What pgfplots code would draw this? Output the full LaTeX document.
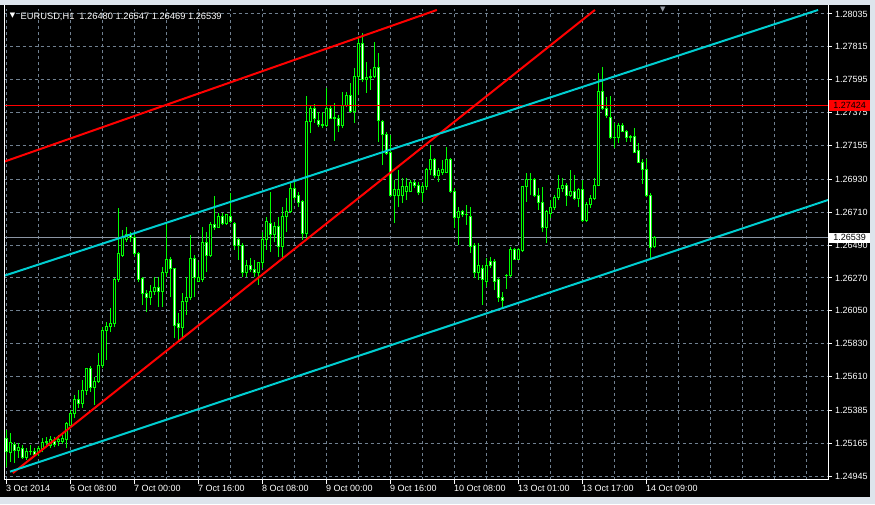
\documentclass[border=0pt]{standalone}
\usepackage{fontspec}
\setmainfont{Liberation Sans}
\newfontfamily\symfont{DejaVu Sans}
\usepackage{pgfplots}
\usepackage{pgfplotstable}
\pgfplotsset{compat=1.18}
\definecolor{winbg}{RGB}{221,228,236}
\definecolor{gridc}{RGB}{112,128,144}
\definecolor{candlec}{RGB}{0,255,0}
\definecolor{chan}{RGB}{0,206,209}
\definecolor{bidc}{RGB}{140,150,165}
\definecolor{shiftc}{RGB}{150,155,165}

\pgfplotstableread{
i o h l c
0 1.25199 1.25253 1.25005 1.25106
1 1.25099 1.25233 1.25039 1.25166
2 1.25159 1.25173 1.25032 1.25119
3 1.25119 1.25166 1.25066 1.25139
4 1.25132 1.25152 1.25059 1.25072
5 1.25072 1.25132 1.25052 1.25112
6 1.25112 1.25152 1.25086 1.25106
7 1.25112 1.25132 1.25079 1.25092
8 1.25099 1.25146 1.25079 1.25126
9 1.25126 1.25199 1.25106 1.25166
10 1.25166 1.25206 1.25139 1.25173
11 1.25152 1.25213 1.25132 1.25186
12 1.25179 1.25206 1.25139 1.25159
13 1.25173 1.25219 1.25146 1.25186
14 1.25173 1.25219 1.25159 1.25199
15 1.25186 1.25306 1.25132 1.25293
16 1.25286 1.25387 1.25266 1.25366
17 1.25366 1.25487 1.25333 1.25460
18 1.25460 1.25520 1.25400 1.25433
19 1.25433 1.25587 1.25400 1.25520
20 1.25520 1.25667 1.25487 1.25667
21 1.25667 1.25681 1.25507 1.25534
22 1.25534 1.25607 1.25420 1.25574
23 1.25574 1.25768 1.25567 1.25687
24 1.25687 1.25942 1.25667 1.25915
25 1.25915 1.25975 1.25721 1.25948
26 1.25942 1.26069 1.25908 1.25962
27 1.25962 1.26269 1.25942 1.26256
28 1.26256 1.26738 1.26243 1.26430
29 1.26423 1.26590 1.26410 1.26537
30 1.26524 1.26610 1.26510 1.26557
31 1.26557 1.26577 1.26510 1.26537
32 1.26537 1.26570 1.26416 1.26430
33 1.26430 1.26443 1.26243 1.26256
34 1.26263 1.26276 1.26089 1.26169
35 1.26169 1.26189 1.26042 1.26136
36 1.26136 1.26223 1.26089 1.26182
37 1.26182 1.26276 1.26156 1.26209
38 1.26209 1.26276 1.26075 1.26176
39 1.26182 1.26343 1.26075 1.26309
40 1.26303 1.26637 1.26276 1.26396
41 1.26396 1.26410 1.26142 1.26330
42 1.26330 1.26336 1.25868 1.25955
43 1.25962 1.26035 1.25855 1.25935
44 1.25935 1.26169 1.25875 1.26109
45 1.26109 1.26276 1.26022 1.26142
46 1.26142 1.26557 1.26122 1.26403
47 1.26403 1.26423 1.26142 1.26276
48 1.26249 1.26376 1.26243 1.26276
49 1.26256 1.26610 1.26243 1.26510
50 1.26510 1.26577 1.26309 1.26423
51 1.26423 1.26644 1.26410 1.26624
52 1.26624 1.26818 1.26590 1.26610
53 1.26610 1.26704 1.26604 1.26684
54 1.26684 1.26704 1.26624 1.26637
55 1.26637 1.26697 1.26624 1.26691
56 1.26684 1.26838 1.26637 1.26644
57 1.26637 1.26644 1.26457 1.26490
58 1.26524 1.26537 1.26390 1.26490
59 1.26490 1.26503 1.26276 1.26303
60 1.26303 1.26390 1.26276 1.26356
61 1.26356 1.26403 1.26309 1.26323
62 1.26323 1.26390 1.26276 1.26303
63 1.26303 1.26376 1.26223 1.26370
64 1.26370 1.26577 1.26336 1.26530
65 1.26530 1.26677 1.26457 1.26644
66 1.26637 1.26845 1.26443 1.26557
67 1.26557 1.26644 1.26510 1.26617
68 1.26617 1.26677 1.26410 1.26477
69 1.26477 1.26744 1.26403 1.26684
70 1.26684 1.26804 1.26577 1.26711
71 1.26711 1.26905 1.26704 1.26865
72 1.26865 1.26925 1.26791 1.26811
73 1.26824 1.26845 1.26744 1.26771
74 1.26778 1.26791 1.26524 1.26564
75 1.26564 1.27487 1.26524 1.27313
76 1.27313 1.27426 1.27239 1.27406
77 1.27406 1.27433 1.27306 1.27333
78 1.27326 1.27380 1.27279 1.27299
79 1.27299 1.27380 1.27273 1.27286
80 1.27286 1.27540 1.27279 1.27406
81 1.27406 1.27426 1.27333 1.27339
82 1.27346 1.27440 1.27186 1.27339
83 1.27339 1.27359 1.27246 1.27286
84 1.27286 1.27513 1.27273 1.27426
85 1.27426 1.27513 1.27413 1.27493
86 1.27493 1.27573 1.27373 1.27380
87 1.27380 1.27674 1.27306 1.27614
88 1.27614 1.27874 1.27493 1.27841
89 1.27841 1.27908 1.27580 1.27594
90 1.27594 1.27714 1.27507 1.27607
91 1.27607 1.27667 1.27527 1.27614
92 1.27614 1.27848 1.27607 1.27680
93 1.27680 1.27774 1.27179 1.27326
94 1.27313 1.27326 1.27025 1.27226
95 1.27232 1.27246 1.27092 1.27105
96 1.27112 1.27226 1.26811 1.26824
97 1.26818 1.26925 1.26637 1.26858
98 1.26824 1.26992 1.26744 1.26858
99 1.26824 1.26938 1.26771 1.26878
100 1.26851 1.26938 1.26791 1.26878
101 1.26851 1.26925 1.26845 1.26905
102 1.26905 1.26925 1.26871 1.26885
103 1.26891 1.26911 1.26824 1.26838
104 1.26838 1.26905 1.26778 1.26878
105 1.26878 1.27005 1.26858 1.26992
106 1.26992 1.27159 1.26958 1.27059
107 1.27059 1.27072 1.26938 1.26952
108 1.26958 1.27005 1.26911 1.26985
109 1.26978 1.27059 1.26958 1.26998
110 1.26978 1.27145 1.26972 1.27059
111 1.27059 1.27072 1.26838 1.26845
112 1.26851 1.26871 1.26604 1.26671
113 1.26671 1.26744 1.26490 1.26711
114 1.26711 1.26724 1.26677 1.26697
115 1.26697 1.26758 1.26624 1.26691
116 1.26684 1.26744 1.26437 1.26477
117 1.26490 1.26503 1.26269 1.26309
118 1.26309 1.26503 1.26256 1.26350
119 1.26336 1.26356 1.26089 1.26256
120 1.26249 1.26403 1.26209 1.26356
121 1.26383 1.26410 1.26336 1.26356
122 1.26383 1.26396 1.26189 1.26249
123 1.26256 1.26269 1.26109 1.26142
124 1.26142 1.26176 1.26075 1.26122
125 1.26283 1.26296 1.26196 1.26289
126 1.26289 1.26477 1.26276 1.26457
127 1.26463 1.26470 1.26390 1.26396
128 1.26396 1.26470 1.26390 1.26457
129 1.26450 1.26878 1.26443 1.26878
130 1.26878 1.26972 1.26778 1.26931
131 1.26925 1.26972 1.26824 1.26931
132 1.26925 1.26938 1.26811 1.26824
133 1.26824 1.26871 1.26724 1.26771
134 1.26771 1.26878 1.26577 1.26610
135 1.26610 1.26724 1.26503 1.26711
136 1.26704 1.26791 1.26671 1.26744
137 1.26744 1.26824 1.26724 1.26811
138 1.26811 1.26958 1.26791 1.26865
139 1.26865 1.26938 1.26845 1.26885
140 1.26885 1.26905 1.26751 1.26824
141 1.26824 1.26992 1.26811 1.26845
142 1.26845 1.26958 1.26791 1.26798
143 1.26798 1.26871 1.26744 1.26858
144 1.26858 1.26925 1.26644 1.26651
145 1.26651 1.26778 1.26644 1.26764
146 1.26758 1.26824 1.26738 1.26798
147 1.26798 1.26938 1.26791 1.26891
148 1.26891 1.27640 1.26885 1.27520
149 1.27520 1.27680 1.27393 1.27406
150 1.27406 1.27480 1.27339 1.27353
151 1.27346 1.27487 1.27199 1.27206
152 1.27206 1.27306 1.27139 1.27212
153 1.27212 1.27306 1.27172 1.27286
154 1.27286 1.27306 1.27246 1.27252
155 1.27252 1.27259 1.27179 1.27206
156 1.27219 1.27226 1.27179 1.27206
157 1.27219 1.27273 1.27105 1.27112
158 1.27119 1.27172 1.27038 1.27045
159 1.27045 1.27065 1.26898 1.26998
160 1.26998 1.27065 1.26811 1.26824
161 1.26824 1.26838 1.26403 1.26470
162 1.26480 1.26547 1.26469 1.26539
}\ohlc

\begin{document}
\begin{tikzpicture}[x=1pt,y=1pt]
\useasboundingbox (0,0) rectangle (875,504);
\fill[winbg] (0,0) rectangle (875,504);
\fill[black] (0,7) rectangle (870,499);
\begin{axis}[
  at={(4.5pt,24.5pt)}, anchor=south west,
  scale only axis, width=823.5pt, height=470pt,
  xmin=-0.5, xmax=205.375,
  ymin=1.249217, ymax=1.280651,
  clip mode=individual,
  axis line style={draw=none},
  scaled y ticks=false, scaled x ticks=false,
  tick align=outside,
  major tick length=4pt,
  minor tick length=0pt,
  tick style={white, line width=1pt},
  xtick pos=bottom, ytick pos=right,
  yticklabel pos=right,
  xtick={0,16,...,160},
  xticklabels={3 Oct 2014,6 Oct 08:00,7 Oct 00:00,7 Oct 16:00,8 Oct 08:00,9 Oct 00:00,9 Oct 16:00,10 Oct 08:00,13 Oct 01:00,13 Oct 17:00,14 Oct 09:00},
  minor xtick={8,16,...,200},
  ytick={1.24945,1.25165,1.25385,1.25610,1.25830,1.26050,1.26270,1.26490,1.26710,1.26930,1.27155,1.27375,1.27595,1.27815,1.28035},
  yticklabels={1.24945,1.25165,1.25385,1.25610,1.25830,1.26050,1.26270,1.26490,1.26710,1.26930,1.27155,1.27375,1.27595,1.27815,1.28035},
  xmajorgrids, xminorgrids, ymajorgrids,
  grid style={gridc, dash pattern=on 3pt off 3pt, line width=1pt},
  minor grid style={gridc, dash pattern=on 3pt off 3pt, line width=1pt},
  ticklabel style={white, font=\fontsize{9}{10}\selectfont},
  yticklabel style={anchor=west, inner sep=0pt, xshift=3pt},
  xticklabel style={anchor=north west, inner sep=0pt, xshift=-0.5pt, yshift=-1.5pt},
]
% bid line
\addplot[bidc, line width=1pt] coordinates {(-0.5,1.26539) (205.375,1.26539)};
% candles
\pgfplotsforeachungrouped \k in {0,...,162}{%
  \pgfplotstablegetelem{\k}{o}\of\ohlc \let\vo\pgfplotsretval
  \pgfplotstablegetelem{\k}{h}\of\ohlc \let\vh\pgfplotsretval
  \pgfplotstablegetelem{\k}{l}\of\ohlc \let\vl\pgfplotsretval
  \pgfplotstablegetelem{\k}{c}\of\ohlc \let\vc\pgfplotsretval
  \ifdim\vc pt<\vo pt
    \edef\bq{\vc}\edef\tq{\vo}\def\fc{white}%
  \else
    \edef\bq{\vo}\edef\tq{\vc}\def\fc{black}%
  \fi
  \pgfmathsetmacro\xa{\k-0.3}\pgfmathsetmacro\xb{\k+0.3}%
  \edef\doit{\noexpand\addplot[candlec, line width=1pt, mark=none] coordinates {(\k,\vl) (\k,\vh)};
    \noexpand\addplot[draw=candlec, fill=\fc, line width=1pt, mark=none] coordinates {(\xa,\bq) (\xb,\bq) (\xb,\tq) (\xa,\tq) (\xa,\bq)};}%
  \doit
}
% horizontal level
\addplot[red, line width=1pt] coordinates {(-0.5,1.27424) (205.375,1.27424)};
% trend lines
\addplot[red, line width=2pt] coordinates {(-0.5,1.27048) (107.6,1.28062)};
\addplot[red, line width=2pt] coordinates {(1.6,1.24965) (147.1,1.28062)};
\addplot[chan, line width=2pt] coordinates {(-0.5,1.26285) (202.9,1.28062)};
\addplot[chan, line width=2pt] coordinates {(0.875,1.24974) (205.375,1.26791)};
\coordinate (lvl) at (axis cs:205.375,1.27424);
\coordinate (bid) at (axis cs:205.375,1.26539);
\coordinate (shift) at (axis cs:164.1,1.280651);
\end{axis}
% frame
\draw[white, line width=1pt] (4.5,499) -- (4.5,24.5) -- (828,24.5) -- (828,499);
% price labels on the scale
\node[fill=red, anchor=west, minimum height=11pt, minimum width=41pt, inner sep=0pt,
  font=\fontsize{9}{10}\selectfont, text=black] at ([xshift=1pt]lvl) {1.27424};
\node[fill=white, anchor=west, minimum height=10pt, minimum width=41pt, inner sep=0pt,
  font=\fontsize{9}{10}\selectfont, text=black] at ([xshift=1pt]bid) {1.26539};
% title
\node[anchor=center, inner sep=0pt, white, font=\symfont\fontsize{7}{8}\selectfont] at (12.5,488.5) {▼};
\node[anchor=base west, inner sep=0pt, white, font=\fontsize{9.3}{10}\selectfont] at (20.5,484.7)
  {EURUSD,H1\hspace{5pt}1.26480 1.26547 1.26469 1.26539};
\node[anchor=center, inner sep=0pt, shiftc, font=\symfont\fontsize{7}{8}\selectfont] at ([yshift=-0.5pt]shift) {▼};
\end{tikzpicture}
\end{document}
